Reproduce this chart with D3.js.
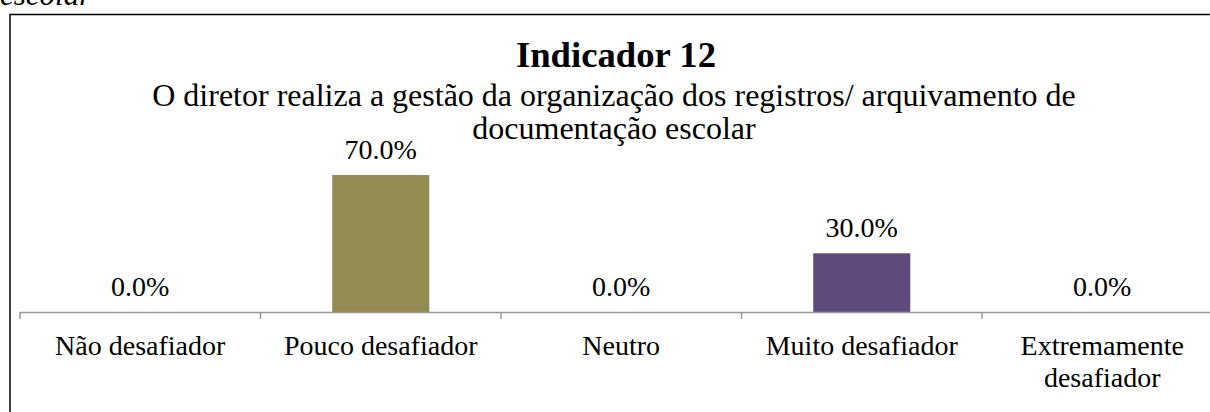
<!DOCTYPE html>
<html>
<head>
<meta charset="utf-8">
<script src="https://cdn.jsdelivr.net/npm/d3@7"></script>
<style>
  body { margin: 0; background: #fff; }
  svg { display: block; }
</style>
</head>
<body>
<div id="chart"></div>
<script>
var categories = ["Não desafiador", "Pouco desafiador", "Neutro", "Muito desafiador", "Extremamente desafiador"];
var values = [0.0, 70.0, 0.0, 30.0, 0.0];
var barColours = ["#4F81BD", "#948A54", "#9BBB59", "#604A7B", "#4BACC6"];
var chartTitle = "Indicador 12";
var subtitleLines = ["O diretor realiza a gestão da organização dos registros/ arquivamento de", "documentação escolar"];

var W = 1210, H = 412;
var axisY = 312;
var serif = "'Liberation Serif', 'Times New Roman', serif";

var svg = d3.select("#chart").append("svg")
    .attr("width", W)
    .attr("height", H);

// fragment of the caption above the chart, cut off by the page
svg.append("text")
    .attr("x", 0)
    .attr("y", 5)
    .style("font-family", serif)
    .style("font-style", "italic")
    .style("font-size", "31px")
    .text("escolar");

// chart frame (runs off the right and bottom of the picture)
svg.append("path")
    .attr("d", "M10," + (H + 5) + "V14.5H" + (W + 5))
    .attr("fill", "none")
    .attr("stroke", "#000")
    .attr("stroke-width", 1.5);

var x = d3.scaleBand()
    .domain(categories)
    .range([20, 1222.5]);

var barWidth = 97;

var y = d3.scaleLinear()
    .domain([0, 100])
    .range([axisY, axisY - 195.7]);

svg.selectAll("rect.bar")
    .data(values)
    .enter().append("rect")
    .attr("class", "bar")
    .attr("x", (d, i) => x(categories[i]) + x.bandwidth() / 2 - barWidth / 2)
    .attr("width", barWidth)
    .attr("y", d => y(d))
    .attr("height", d => y(0) - y(d))
    .attr("fill", (d, i) => barColours[i]);

// axis line and tick marks between categories
var axis = svg.append("g");
axis.append("line")
    .attr("x1", 20).attr("x2", W + 5)
    .attr("y1", axisY + 0.5).attr("y2", axisY + 0.5)
    .attr("stroke", "#999").attr("stroke-width", 1.5);
axis.selectAll("line.tick")
    .data(categories.concat(["end"]))
    .enter().append("line")
    .attr("class", "tick")
    .attr("x1", (d, i) => 20 + i * x.bandwidth())
    .attr("x2", (d, i) => 20 + i * x.bandwidth())
    .attr("y1", axisY).attr("y2", axisY + 7)
    .attr("stroke", "#999").attr("stroke-width", 1.5);

// value labels
svg.selectAll("text.value")
    .data(values)
    .enter().append("text")
    .attr("class", "value")
    .attr("x", (d, i) => x(categories[i]) + x.bandwidth() / 2)
    .attr("y", d => y(d) - 16)
    .attr("text-anchor", "middle")
    .style("font-family", serif)
    .style("font-size", "28px")
    .text(d => d.toFixed(1) + "%");

// category labels, wrapped like the original
var catLines = [["Não desafiador"], ["Pouco desafiador"], ["Neutro"], ["Muito desafiador"], ["Extremamente", "desafiador"]];
var catText = svg.selectAll("text.cat")
    .data(categories)
    .enter().append("text")
    .attr("class", "cat")
    .attr("text-anchor", "middle")
    .style("font-family", serif)
    .style("font-size", "28px");
catText.each(function(d, i) {
    var cx = x(d) + x.bandwidth() / 2;
    d3.select(this).selectAll("tspan")
        .data(catLines[i])
        .enter().append("tspan")
        .attr("x", cx)
        .attr("y", (t, j) => 355 + j * 32)
        .text(t => t);
});

// title
svg.append("text")
    .attr("x", 616)
    .attr("y", 67)
    .attr("text-anchor", "middle")
    .style("font-family", serif)
    .style("font-weight", "bold")
    .style("font-size", "36.7px")
    .text(chartTitle);

svg.selectAll("text.sub")
    .data(subtitleLines)
    .enter().append("text")
    .attr("class", "sub")
    .attr("x", 614)
    .attr("y", (d, i) => 106 + i * 33)
    .attr("text-anchor", "middle")
    .style("font-family", serif)
    .style("font-size", "32px")
    .text(d => d);
</script>
</body>
</html>
